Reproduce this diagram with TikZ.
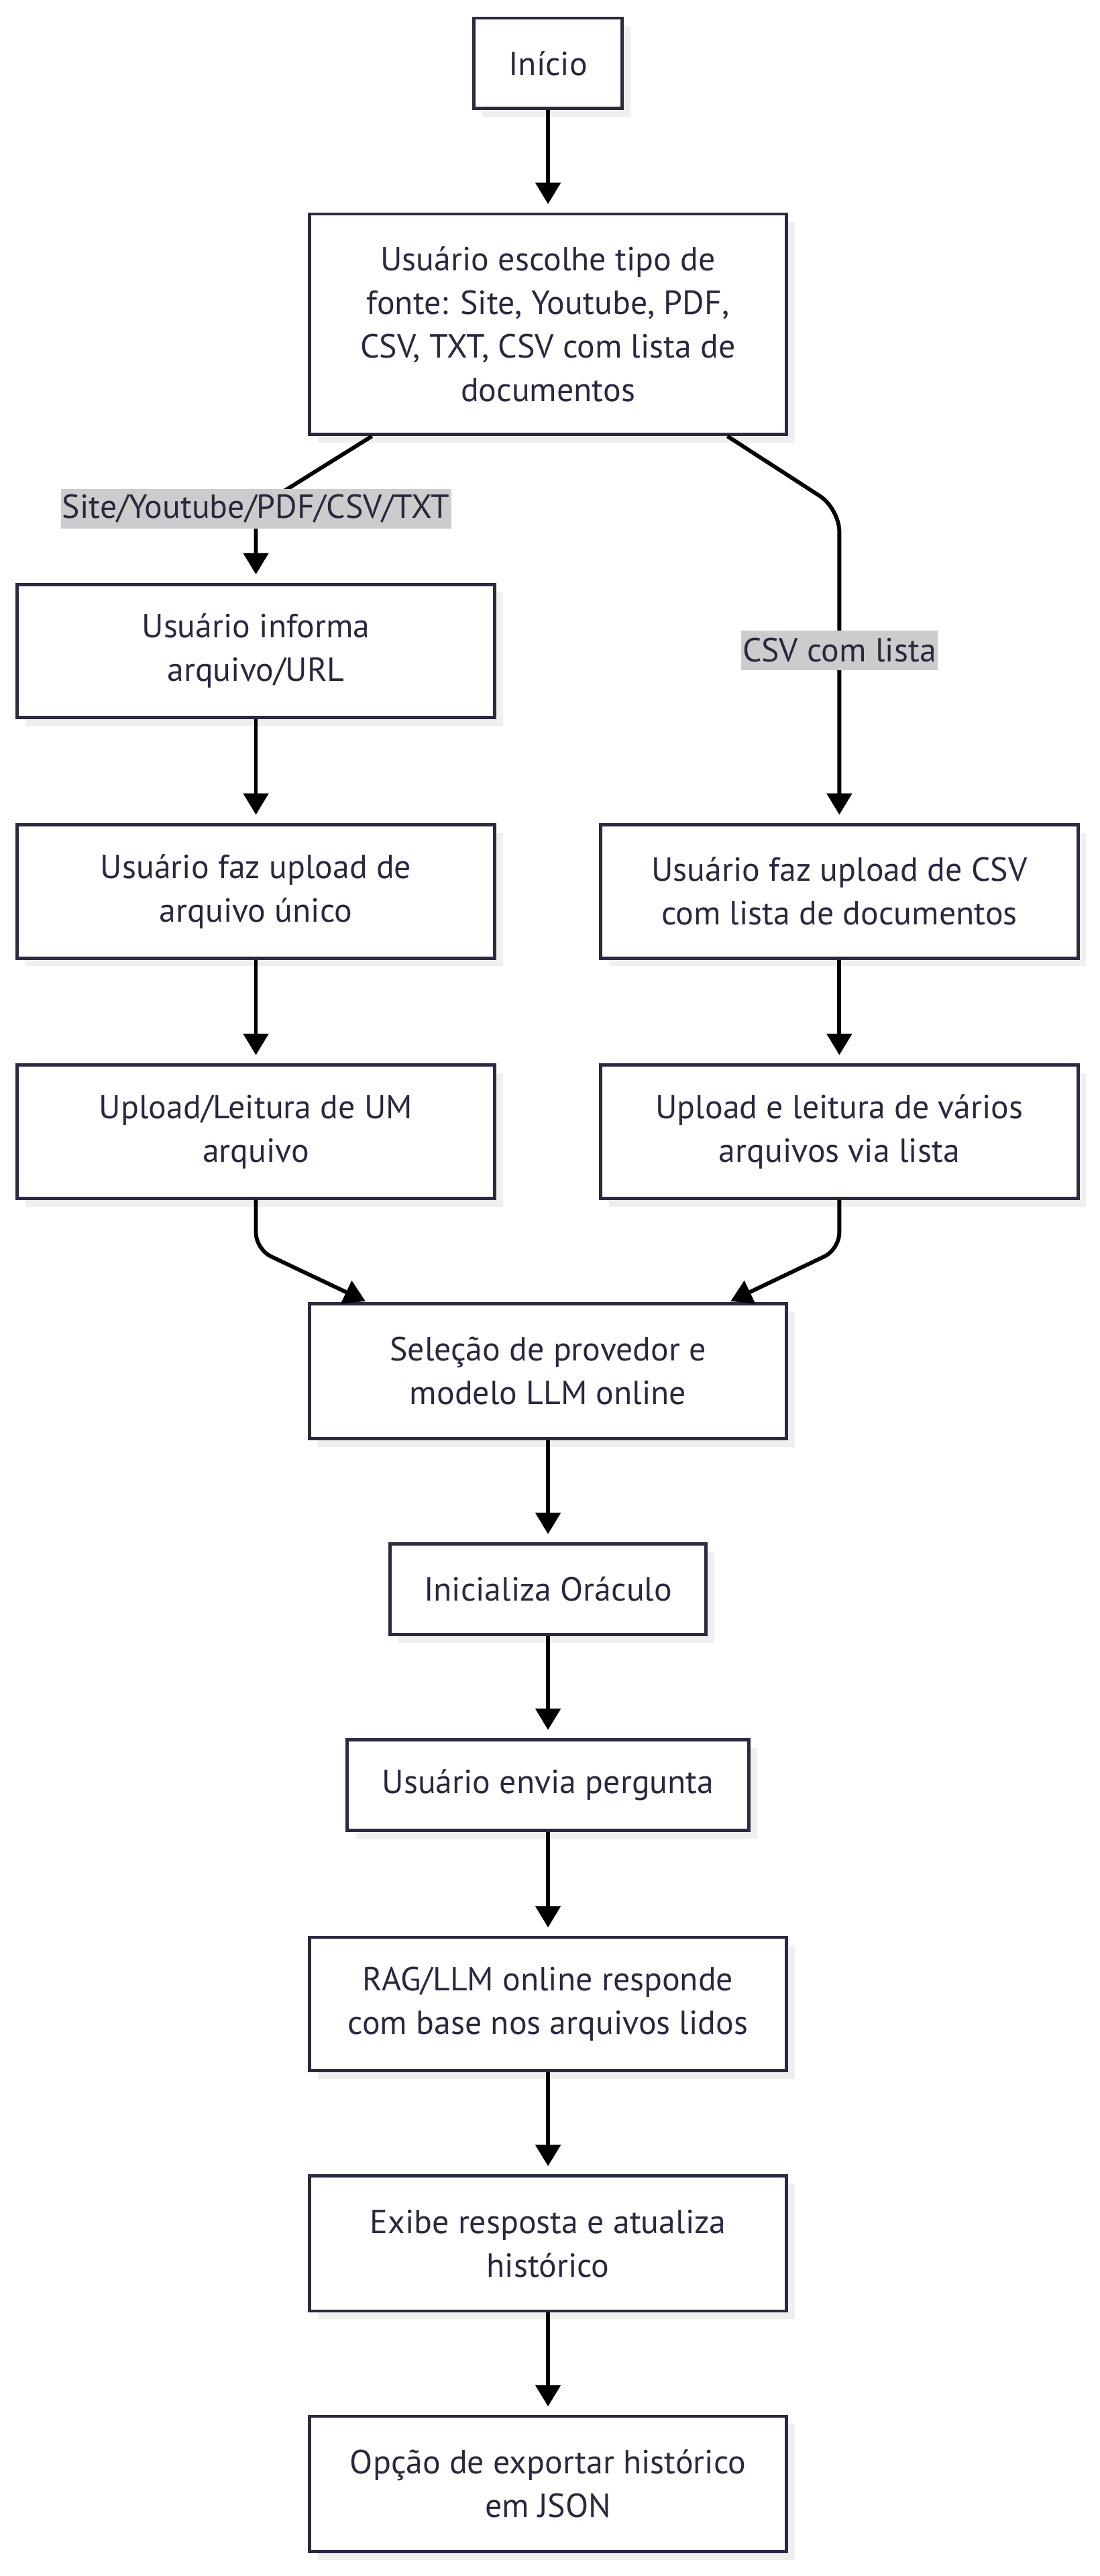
\documentclass[tikz,border=0pt]{standalone}
\usepackage{fontspec}
\setmainfont{PT Sans}
\usetikzlibrary{arrows.meta,shadows}
\definecolor{borda}{HTML}{2A2A40}
\definecolor{texto}{HTML}{28283E}
\definecolor{sombra}{HTML}{EFEFEF}
\definecolor{fundorotulo}{HTML}{CCCCCC}
\tikzset{
  caixa/.style={draw=borda, line width=2pt, fill=white, text=texto, align=center,
    minimum width=290pt, minimum height=81pt, inner sep=0pt,
    font=\fontsize{20.3}{26.5}\selectfont,
    general shadow={fill=sombra, shadow xshift=5pt, shadow yshift=-5pt}},
  rotulo/.style={fill=fundorotulo, text=texto, inner xsep=1pt, inner ysep=0pt, sharp corners,
    minimum height=24pt, font=\fontsize{20.3}{26.5}\selectfont},
  seta/.style={-{Triangle[width=15pt,length=13pt]}, line width=2.4pt, shorten >=5pt},
}
\begin{document}
\begin{tikzpicture}[x=1pt,y=-1pt]
  \useasboundingbox (0,0) rectangle (668,1565);
  \draw
    (333,38.5) node[caixa, minimum width=90pt, minimum height=55pt] (inicio) {Início}
    (333,197) node[caixa, minimum height=134pt] (fonte) {Usuário escolhe tipo de\\fonte: Site, Youtube, PDF,\\CSV, TXT, CSV com lista de\\documentos}
    (155.5,395.5) node[caixa] (informa) {Usuário informa\\arquivo/URL}
    (155.5,541.5) node[caixa] (unico) {Usuário faz upload de\\arquivo único}
    (510,541.5) node[caixa] (csv) {Usuário faz upload de CSV\\com lista de documentos}
    (155.5,687.5) node[caixa] (leitura) {Upload/Leitura de UM\\arquivo}
    (510,687.5) node[caixa] (varios) {Upload e leitura de vários\\arquivos via lista}
    (333,833) node[caixa, minimum height=82pt] (selecao) {Seleção de provedor e\\modelo LLM online}
    (333,965.5) node[caixa, minimum width=192pt, minimum height=55pt] (oraculo) {Inicializa Oráculo}
    (333,1084.5) node[caixa, minimum width=244pt, minimum height=55pt] (pergunta) {Usuário envia pergunta}
    (333,1217.5) node[caixa] (responde) {RAG/LLM online responde\\com base nos arquivos lidos}
    (333,1363) node[caixa, minimum height=82pt] (exibe) {Exibe resposta e atualiza\\histórico}
    (333,1509) node[caixa, minimum height=82pt] (exporta) {Opção de exportar histórico\\em JSON};
  \begin{scope}[seta]
    \draw (inicio) to (fonte);
    \draw ([xshift=-107pt]fonte.south) -- ([yshift=45pt]informa.north)
      node[rotulo] (lblsite) {Site/Youtube/PDF/CSV/TXT} -- (informa.north);
    \draw[rounded corners=14pt] ([xshift=109pt]fonte.south) -- ([yshift=191pt]csv.north)
      -- node[rotulo, pos=0.45] (lblcsv) {CSV com lista} (csv.north);
    \draw (informa) to (unico);
    \draw (unico) to (leitura);
    \draw (csv) to (varios);
    \draw[rounded corners=10pt, shorten >=1pt] (leitura.south) -- ([yshift=-30pt]leitura.south)
      -- ([xshift=-110pt]selecao.north);
    \draw[rounded corners=10pt, shorten >=1pt] (varios.south) -- ([yshift=-30pt]varios.south)
      -- ([xshift=110pt]selecao.north);
    \draw (selecao) to (oraculo);
    \draw (oraculo) to (pergunta);
    \draw (pergunta) to (responde);
    \draw (responde) to (exibe);
    \draw (exibe) to (exporta);
  \end{scope}
\end{tikzpicture}
\end{document}
